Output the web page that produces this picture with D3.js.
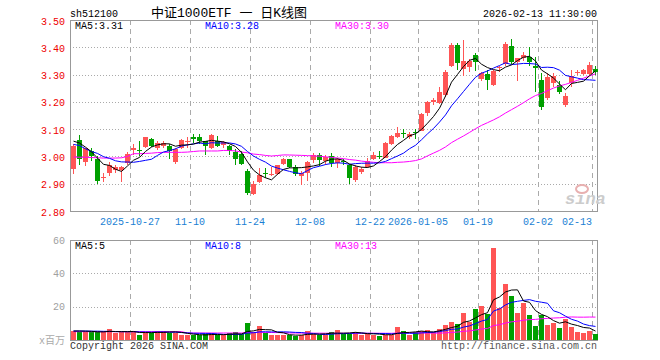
<!DOCTYPE html>
<html><head><meta charset="utf-8">
<script src="https://cdn.jsdelivr.net/npm/d3@7"></script>
<style>
body{margin:0;background:#fff;}
svg{display:block;}
text{font-family:"Liberation Mono","DejaVu Sans Mono","Noto Sans CJK SC",monospace;}
</style>
</head><body>
<svg id="c" width="660" height="360"></svg>
<script>
// ---------- data ----------
const dates = [
 "2025-10-13","2025-10-14","2025-10-15","2025-10-16","2025-10-17","2025-10-20","2025-10-21","2025-10-22","2025-10-23","2025-10-24",
 "2025-10-27","2025-10-28","2025-10-29","2025-10-30","2025-10-31","2025-11-03","2025-11-04","2025-11-05","2025-11-06","2025-11-07",
 "2025-11-10","2025-11-11","2025-11-12","2025-11-13","2025-11-14","2025-11-17","2025-11-18","2025-11-19","2025-11-20","2025-11-21",
 "2025-11-24","2025-11-25","2025-11-26","2025-11-27","2025-11-28","2025-12-01","2025-12-02","2025-12-03","2025-12-04","2025-12-05",
 "2025-12-08","2025-12-09","2025-12-10","2025-12-11","2025-12-12","2025-12-15","2025-12-16","2025-12-17","2025-12-18","2025-12-19",
 "2025-12-22","2025-12-23","2025-12-24","2025-12-25","2025-12-26","2025-12-29","2025-12-30","2025-12-31","2026-01-05","2026-01-06",
 "2026-01-07","2026-01-08","2026-01-09","2026-01-12","2026-01-13","2026-01-14","2026-01-15","2026-01-16","2026-01-19","2026-01-20",
 "2026-01-21","2026-01-22","2026-01-23","2026-01-26","2026-01-27","2026-01-28","2026-01-29","2026-01-30","2026-02-02","2026-02-03",
 "2026-02-04","2026-02-05","2026-02-06","2026-02-09","2026-02-10","2026-02-11","2026-02-12","2026-02-13"];
const opens = [
 2.955,3.06,2.98,3.02,2.99,2.92,2.94,2.95,2.95,2.975,
 3.025,3.025,3.035,3.065,3.03,3.04,3.04,2.98,3.03,3.052,
 3.072,3.07,3.055,3.03,3.057,3.042,3.037,3.018,3.01,2.947,
 2.863,2.906,2.94,2.932,2.936,2.973,2.989,2.962,2.93,2.94,
 2.986,3.004,2.983,3.0,2.977,2.982,2.969,2.915,2.943,2.963,
 2.99,3.002,2.995,3.047,3.071,3.085,3.072,3.09,3.095,3.16,
 3.2,3.196,3.226,3.33,3.41,3.322,3.327,3.373,3.285,3.302,
 3.263,3.325,3.337,3.406,3.345,3.361,3.363,3.33,3.28,3.215,
 3.268,3.262,3.19,3.27,3.305,3.302,3.302,3.32];
const highs = [
 3.045,3.08,3.032,3.03,3.0,2.94,2.98,2.97,2.965,3.015,
 3.045,3.058,3.072,3.068,3.055,3.055,3.045,3.03,3.063,3.07,
 3.083,3.082,3.058,3.082,3.076,3.058,3.042,3.027,3.02,2.955,
 2.91,2.958,2.958,2.962,2.97,2.993,2.992,2.967,2.946,2.983,
 3.014,3.014,3.007,3.011,2.995,2.99,2.972,2.97,2.96,2.993,
 3.017,3.02,3.053,3.08,3.107,3.1,3.09,3.1,3.16,3.204,
 3.215,3.254,3.315,3.415,3.415,3.427,3.357,3.378,3.31,3.315,
 3.315,3.333,3.418,3.43,3.362,3.382,3.40,3.366,3.305,3.305,
 3.305,3.278,3.233,3.316,3.315,3.322,3.347,3.332];
const lows = [
 2.935,2.97,2.965,2.985,2.90,2.905,2.93,2.94,2.905,2.97,
 3.005,3.0,3.03,3.035,3.025,3.03,2.99,2.972,3.028,3.03,
 3.05,3.045,3.005,3.027,3.035,3.03,3.005,2.97,2.97,2.86,
 2.857,2.902,2.92,2.927,2.933,2.968,2.958,2.927,2.896,2.909,
 2.977,2.964,2.967,2.96,2.958,2.967,2.90,2.905,2.935,2.957,
 2.987,2.99,2.993,3.043,3.066,3.067,3.065,3.063,3.093,3.147,
 3.19,3.192,3.217,3.327,3.315,3.296,3.308,3.312,3.275,3.244,
 3.257,3.308,3.333,3.34,3.278,3.351,3.333,3.235,3.17,3.205,
 3.254,3.229,3.18,3.255,3.30,3.298,3.30,3.298];
const closes = [
 3.04,2.99,3.03,3.00,2.91,2.925,2.97,2.96,2.96,3.01,
 3.03,3.022,3.07,3.04,3.05,3.05,3.02,3.027,3.06,3.055,
 3.065,3.055,3.04,3.08,3.04,3.052,3.02,2.99,2.973,2.865,
 2.90,2.933,2.938,2.935,2.967,2.989,2.962,2.937,2.94,2.98,
 3.007,2.986,2.999,2.975,2.989,2.978,2.92,2.963,2.953,2.983,
 3.007,3.0,3.05,3.075,3.087,3.082,3.083,3.088,3.155,3.2,
 3.205,3.235,3.311,3.41,3.342,3.349,3.349,3.345,3.305,3.28,
 3.312,3.328,3.412,3.345,3.36,3.373,3.345,3.325,3.18,3.29,
 3.296,3.236,3.22,3.295,3.31,3.318,3.335,3.31];
const volumes = [
 5.2,4.8,4.8,4.8,4.8,5.2,6.4,4.0,4.8,4.8,
 5.6,3.2,4.0,4.4,5.6,5.6,4.4,4.4,2.8,2.8,
 3.2,2.8,3.6,4.0,2.8,2.8,4.0,4.8,3.6,10.4,
 4.6,8.4,4.0,3.0,3.2,3.0,2.8,2.6,3.0,5.6,
 3.6,3.0,3.2,5.0,5.8,3.6,3.6,5.0,3.2,3.6,
 3.2,2.6,3.2,3.2,8.0,5.2,3.2,4.8,5.6,6.0,
 4.6,6.6,9.2,11.0,9.8,16.5,10.6,18.5,20.7,15.5,
 55.4,19.0,33.5,26.5,16.0,22.0,15.1,8.6,15.1,9.2,
 10.2,7.4,12.8,8.0,5.0,4.4,5.6,3.8];
const ma5Lead  = [3.056,3.049,3.034,3.017];
const ma10Lead = [3.044,3.040,3.028,3.018,3.011,2.999,2.993,2.984,2.980];
const ma30Lead = [2.998,2.997,2.997,2.996,2.995,2.994,2.994,2.994,2.995,3.000,
                  3.010,3.010,3.011,3.012,3.014,3.015,3.015,3.015,3.015,3.016,
                  3.018,3.020,3.020,3.020,3.020,3.022,3.022,3.020,3.016];
const volMa5Lead  = [5.4,5.4,5.3,5.2];
const volMa10Lead = [5.4,5.4,5.4,5.3,5.3,5.2,5.2,5.1,5.0];
const volMa30Lead = [5.0,5.0,5.0,5.0,5.0,5.0,5.0,5.0,5.0,5.0,
                     5.0,5.0,5.0,5.0,5.0,5.0,5.0,5.0,5.0,4.2,
                     4.2,4.2,4.2,4.2,4.2,4.2,4.2,4.2,4.2];
const priceTicks = [3.50,3.40,3.30,3.20,3.10,3.00,2.90,2.80];
const volTicks = [60,40,20];
const tickDates  = ["2025-10-27","2025-11-10","2025-11-24","2025-12-08","2025-12-22","2026-01-05","2026-01-19","2026-02-02","2026-02-13"];
const tickLabels = ["2025-10-27","11-10","11-24","12-08","12-22","2026-01-05","01-19","02-02","02-13"];
const symbol = "sh512100";
const title = "中证1000ETF 一 日K线图";
const stamp = "2026-02-13 11:30:00";

// ---------- chart ----------
const RED="#ff5555", GREEN="#00a000", GRID="#aaaaaa", FRAME="#999999";
const svg = d3.select("#c");
const L=70, R=598, PT=20, PB=211, VT=240, VB=340;
const x = d3.scaleBand().domain(dates).range([L,R]).padding(0);
const bw = x.bandwidth();
const y = d3.scaleLinear().domain([2.80,3.50]).range([PB,PT]);
const yv = d3.scaleLinear().domain([0,60]).range([VB,VT]);

function ma(arr,n,lead){return arr.map((_,i)=> i<n-1 ? lead[i] : d3.mean(arr.slice(i-n+1,i+1)));}
const pm5=ma(closes,5,ma5Lead), pm10=ma(closes,10,ma10Lead), pm30=ma(closes,30,ma30Lead);
const vm5=ma(volumes,5,volMa5Lead), vm10=ma(volumes,10,volMa10Lead), vm30=ma(volumes,30,volMa30Lead);

// grids
const g = svg.append("g");
[ [PT,PB], [VT,VB] ].forEach(([t,b])=>{
  g.selectAll(null).data(tickDates).enter().append("line")
   .attr("x1",d=>x(d)+0.5).attr("x2",d=>x(d)+0.5).attr("y1",t).attr("y2",b)
   .attr("stroke",GRID).attr("stroke-dasharray","5,4");
});
g.selectAll(null).data(priceTicks.slice(1,-1)).enter().append("line")
 .attr("x1",L).attr("x2",R-1).attr("y1",d=>Math.round(y(d))+0.5).attr("y2",d=>Math.round(y(d))+0.5)
 .attr("stroke",GRID).attr("stroke-dasharray","1,2");
g.selectAll(null).data(volTicks.slice(1)).enter().append("line")
 .attr("x1",L).attr("x2",R-1).attr("y1",d=>Math.round(yv(d))+0.5).attr("y2",d=>Math.round(yv(d))+0.5)
 .attr("stroke",GRID).attr("stroke-dasharray","1,2");

// frames
svg.append("rect").attr("x",L+0.5).attr("y",PT+0.5).attr("width",R-L-1).attr("height",PB-PT)
  .attr("fill","none").attr("stroke",FRAME);
svg.append("rect").attr("x",L+0.5).attr("y",VT+0.5).attr("width",R-L-1).attr("height",VB-VT)
  .attr("fill","none").attr("stroke",FRAME);

// watermark
const wm = svg.append("g").attr("fill","#cfcfcf");
wm.append("text").attr("x",565).attr("y",204).attr("font-family","Liberation Sans, Arial, sans-serif")
  .attr("font-size",17).attr("font-weight","bold").attr("font-style","italic").attr("fill","#cccccc").text("sina");
wm.append("ellipse").attr("cx",582).attr("cy",189).attr("rx",6).attr("ry",4).attr("fill","none").attr("stroke","#e8b0b0").attr("stroke-width",2);

// candles
const idx = d3.range(dates.length);
const col = i => closes[i] >= opens[i] ? RED : GREEN;
const cg = svg.append("g").attr("shape-rendering","crispEdges");
cg.selectAll(".wick").data(idx).enter().append("rect")
  .attr("x",i=>x(dates[i])+3).attr("width",1)
  .attr("y",i=>y(highs[i])).attr("height",i=>Math.max(1,y(lows[i])-y(highs[i])))
  .attr("fill",col);
cg.selectAll(".body").data(idx).enter().append("rect")
  .attr("x",i=>x(dates[i])+1).attr("width",bw-1)
  .attr("y",i=>y(Math.max(opens[i],closes[i])))
  .attr("height",i=>Math.max(1,Math.abs(y(opens[i])-y(closes[i]))))
  .attr("fill",col);

// volume bars
cg.selectAll(".vol").data(idx).enter().append("rect")
  .attr("x",i=>x(dates[i])+1).attr("width",bw-1)
  .attr("y",i=>yv(volumes[i])).attr("height",i=>VB-yv(volumes[i]))
  .attr("fill",col);

// MA lines
function drawLine(vals, ys, color){
  svg.append("path").datum(idx)
   .attr("d", d3.line().x(i=>x(dates[i])+3.5).y(i=>ys(vals[i])))
   .attr("fill","none").attr("stroke",color).attr("stroke-width",1);
}
drawLine(pm30,y,"#ff00ff"); drawLine(pm10,y,"#0000ff"); drawLine(pm5,y,"#000000");
drawLine(vm30,yv,"#ff00ff"); drawLine(vm10,yv,"#0000ff"); drawLine(vm5,yv,"#000000");

// axes
const ya = svg.append("g").attr("transform",`translate(${L},0)`)
  .call(d3.axisLeft(y).tickValues(priceTicks).tickFormat(d3.format(".2f")).tickSize(0).tickPadding(5));
ya.select(".domain").remove();
ya.selectAll("text").attr("fill","#ee0000").attr("font-size",10).attr("dy","0.4em")
  .attr("font-family","Liberation Mono, DejaVu Sans Mono, monospace");

const va = svg.append("g").attr("transform",`translate(${L},0)`)
  .call(d3.axisLeft(yv).tickValues(volTicks).tickSize(0).tickPadding(5));
va.select(".domain").remove();
va.selectAll("text").attr("fill","#a0a0a0").attr("font-size",10).attr("dy","0.3em")
  .attr("font-family","Liberation Mono, DejaVu Sans Mono, monospace");

const xa = svg.append("g").attr("transform",`translate(0,${PB})`)
  .call(d3.axisBottom(x).tickValues(tickDates).tickFormat((d,i)=>tickLabels[i]).tickSize(0).tickPadding(7));
xa.select(".domain").remove();
xa.selectAll("text").attr("fill","#1a7fd4").attr("font-size",10).attr("dx",-3)
  .attr("font-family","Liberation Mono, DejaVu Sans Mono, monospace")
  .attr("text-anchor",(d,i)=> i===tickDates.length-1 ? "end" : "middle");

// header texts
const T = (tx,ty,s,opt={}) => svg.append("text").attr("x",tx).attr("y",ty).attr("font-size",opt.size||10)
   .attr("fill",opt.fill||"#000").attr("text-anchor",opt.anchor||"start").text(s);
T(70,16.5,symbol);
T(151,17,title,{size:13});
T(597,16.5,stamp,{anchor:"end"});
T(75,29,"MA5:"+d3.format(".2f")(pm5[pm5.length-1]));
T(205,29,"MA10:"+d3.format(".2f")(pm10[pm10.length-1]),{fill:"#0000ff"});
T(335,29,"MA30:"+d3.format(".2f")(pm30[pm30.length-1]),{fill:"#ff00ff"});
T(75,249,"MA5:"+Math.floor(vm5[vm5.length-1]));
T(205,249,"MA10:"+Math.floor(vm10[vm10.length-1]),{fill:"#0000ff"});
T(335,249,"MA30:"+Math.floor(vm30[vm30.length-1]),{fill:"#ff00ff"});
T(65,344,"x百万",{anchor:"end",fill:"#aaaaaa"});
T(70,349,"Copyright 2026 SINA.COM",{fill:"#333333"});
T(597,349,"http://finance.sina.com.cn",{anchor:"end",fill:"#555555"});
</script>
</body></html>
